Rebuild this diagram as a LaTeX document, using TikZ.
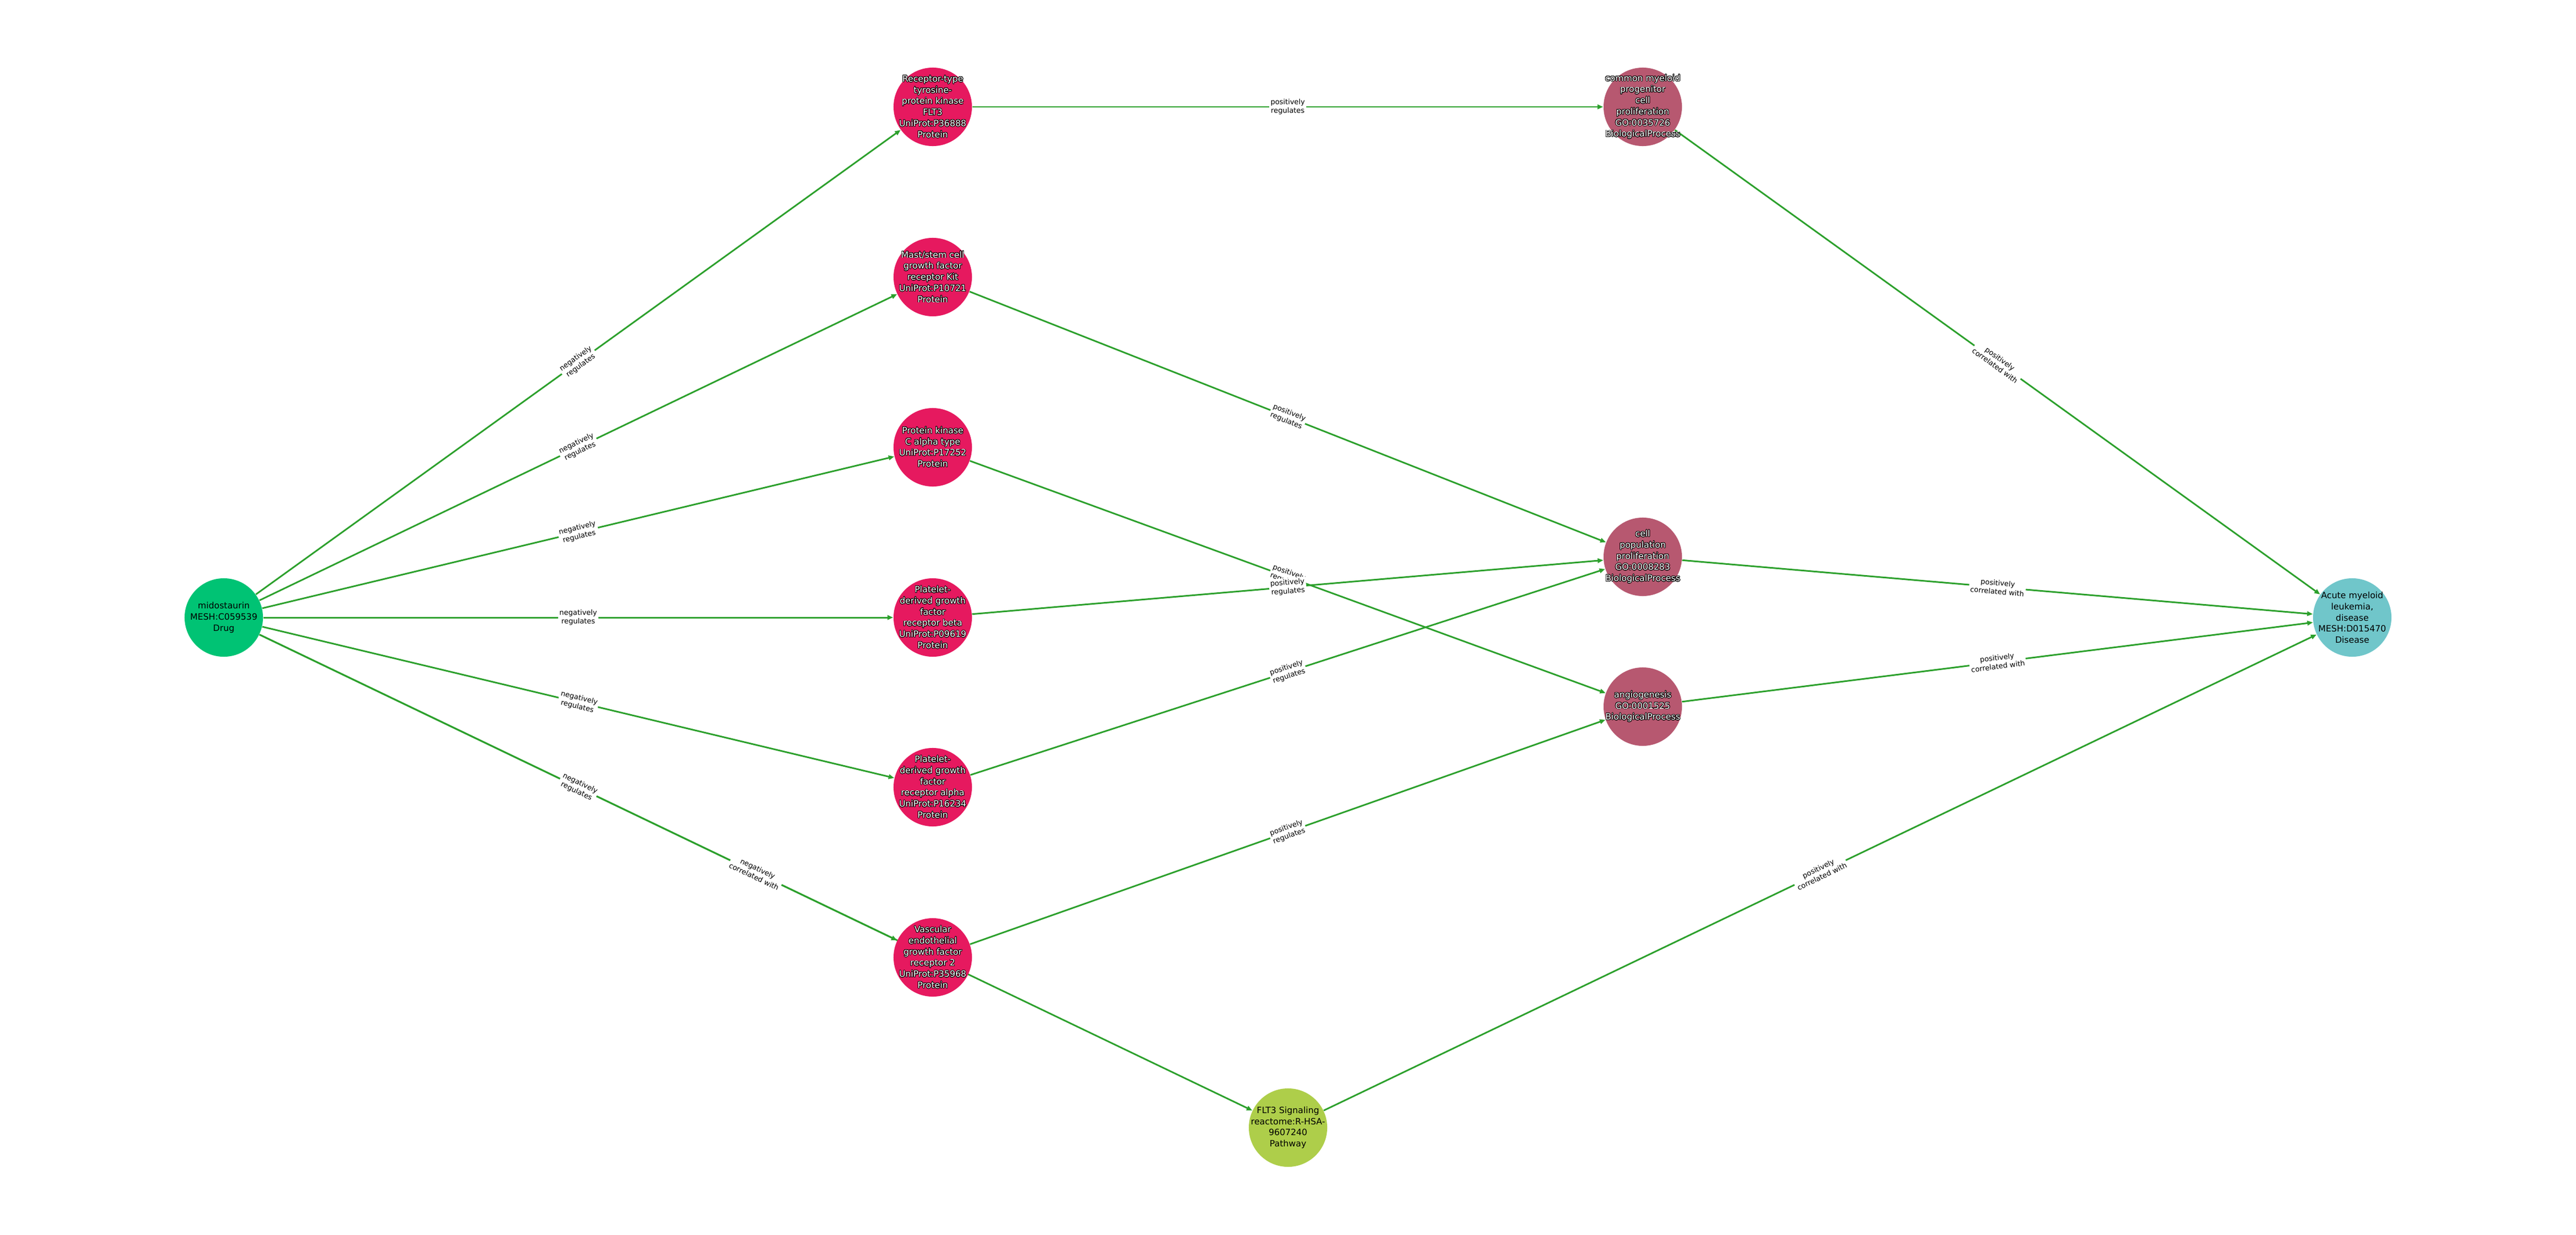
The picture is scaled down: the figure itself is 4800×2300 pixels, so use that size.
\documentclass[tikz,border=0pt]{standalone}
\usepackage{fontspec}
\setmainfont{DejaVu Sans}
\usepackage{contour}
\contourlength{0.25pt}
\contournumber{20}
\usetikzlibrary{arrows.meta}
\definecolor{edgegreen}{HTML}{2CA02C}
\definecolor{drugc}{HTML}{00C374}
\definecolor{protc}{HTML}{E6195F}
\definecolor{bpc}{HTML}{B75870}
\definecolor{disc}{HTML}{70C6CA}
\definecolor{pathc}{HTML}{AECE4A}
\newcommand\olx[1]{\contour{black}{#1}}
\pgfdeclarelayer{bg}
\pgfsetlayers{bg,main}
\tikzset{
 ent/.style={circle, minimum size=1.46cm, inner sep=0pt, draw=none},
 ntext/.style={align=center, font=\fontsize{4.6}{5.9}\selectfont, inner sep=0pt, text=black},
 wtext/.style={ntext, text=white},
 rel/.style={draw=edgegreen, line width=0.85pt, -{Triangle[length=3pt,width=2.4pt]}},
 elab/.style={sloped, midway, fill=white, inner sep=0.7pt, align=center, font=\fontsize{3.8}{4.6}\selectfont, text=black},
}
\begin{document}
\begin{tikzpicture}[x=0.01cm,y=-0.01cm]
\useasboundingbox (0,0) rectangle (4800,2300);
% entity circles
\node[ent, fill=drugc] (mido) at (417,1150) {};
\node[ent, fill=protc] (flt3p) at (1738,199) {};
\node[ent, fill=protc] (kit) at (1738,516) {};
\node[ent, fill=protc] (pkc) at (1738,833) {};
\node[ent, fill=protc] (pdgfrb) at (1738,1150) {};
\node[ent, fill=protc] (pdgfra) at (1738,1466) {};
\node[ent, fill=protc] (vegfr) at (1738,1783) {};
\node[ent, fill=pathc] (path) at (2400,2100) {};
\node[ent, fill=bpc] (cmp) at (3061,199) {};
\node[ent, fill=bpc] (cpp) at (3061,1037) {};
\node[ent, fill=bpc] (angio) at (3061,1316) {};
\node[ent, fill=disc] (aml) at (4383,1150) {};
% edges
\begin{pgfonlayer}{bg}
\fill[white] (0,0) rectangle (4800,2300);
\draw[rel] (mido) -- (flt3p);
\draw[rel] (mido) -- (kit);
\draw[rel] (mido) -- (pkc);
\draw[rel] (mido) -- (pdgfrb);
\draw[rel] (mido) -- (pdgfra);
\draw[rel] (mido) -- (vegfr);
\draw[rel] (mido) -- (path);
\draw[rel] (flt3p) -- (cmp);
\draw[rel] (kit) -- (cpp);
\draw[rel] (pkc) -- (angio);
\draw[rel] (pdgfrb) -- (cpp);
\draw[rel] (pdgfra) -- (cpp);
\draw[rel] (vegfr) -- (angio);
\draw[rel] (cmp) -- (aml);
\draw[rel] (cpp) -- (aml);
\draw[rel] (angio) -- (aml);
\draw[rel] (path) -- (aml);
\end{pgfonlayer}
% edge labels
\path (mido) -- (flt3p) node[elab] (l1) {negatively\\regulates};
\path (mido) -- (kit) node[elab] (l2) {negatively\\regulates};
\path (mido) -- (pkc) node[elab] (l3) {negatively\\regulates};
\path (mido) -- (pdgfrb) node[elab] (l4) {negatively\\regulates};
\path (mido) -- (pdgfra) node[elab] (l5) {negatively\\regulates};
\path (mido) -- (vegfr) node[elab] (l6) {negatively\\regulates};
\path (mido) -- (path) node[elab] (l7) {negatively\\correlated with};
\path (flt3p) -- (cmp) node[elab] (l8) {positively\\regulates};
\path (kit) -- (cpp) node[elab] (l9) {positively\\regulates};
\path (pkc) -- (angio) node[elab] (l10) {positively\\regulates};
\path (pdgfrb) -- (cpp) node[elab] (l11) {positively\\regulates};
\path (pdgfra) -- (cpp) node[elab] (l12) {positively\\regulates};
\path (vegfr) -- (angio) node[elab] (l13) {positively\\regulates};
\path (cmp) -- (aml) node[elab] (l14) {positively\\correlated with};
\path (cpp) -- (aml) node[elab] (l15) {positively\\correlated with};
\path (angio) -- (aml) node[elab] (l16) {positively\\correlated with};
\path (path) -- (aml) node[elab] (l17) {positively\\correlated with};
% node texts
\node[ntext] (tmido) at (mido) {midostaurin\\MESH:C059539\\Drug};
\node[wtext] (tflt3p) at (flt3p) {\olx{Receptor-type}\\\olx{tyrosine-}\\\olx{protein kinase}\\\olx{FLT3}\\\olx{UniProt:P36888}\\\olx{Protein}};
\node[wtext] (tkit) at (kit) {\olx{Mast/stem cell}\\\olx{growth factor}\\\olx{receptor Kit}\\\olx{UniProt:P10721}\\\olx{Protein}};
\node[wtext] (tpkc) at (pkc) {\olx{Protein kinase}\\\olx{C alpha type}\\\olx{UniProt:P17252}\\\olx{Protein}};
\node[wtext] (tpdgfrb) at (pdgfrb) {\olx{Platelet-}\\\olx{derived growth}\\\olx{factor}\\\olx{receptor beta}\\\olx{UniProt:P09619}\\\olx{Protein}};
\node[wtext] (tpdgfra) at (pdgfra) {\olx{Platelet-}\\\olx{derived growth}\\\olx{factor}\\\olx{receptor alpha}\\\olx{UniProt:P16234}\\\olx{Protein}};
\node[wtext] (tvegfr) at (vegfr) {\olx{Vascular}\\\olx{endothelial}\\\olx{growth factor}\\\olx{receptor 2}\\\olx{UniProt:P35968}\\\olx{Protein}};
\node[ntext] (tpath) at (path) {FLT3 Signaling\\reactome:R-HSA-\\9607240\\Pathway};
\node[wtext] (tcmp) at (cmp) {\olx{common myeloid}\\\olx{progenitor}\\\olx{cell}\\\olx{proliferation}\\\olx{GO:0035726}\\\olx{BiologicalProcess}};
\node[wtext] (tcpp) at (cpp) {\olx{cell}\\\olx{population}\\\olx{proliferation}\\\olx{GO:0008283}\\\olx{BiologicalProcess}};
\node[wtext] (tangio) at (angio) {\olx{angiogenesis}\\\olx{GO:0001525}\\\olx{BiologicalProcess}};
\node[ntext] (taml) at (aml) {Acute myeloid\\leukemia,\\disease\\MESH:D015470\\Disease};
\end{tikzpicture}
\end{document}
